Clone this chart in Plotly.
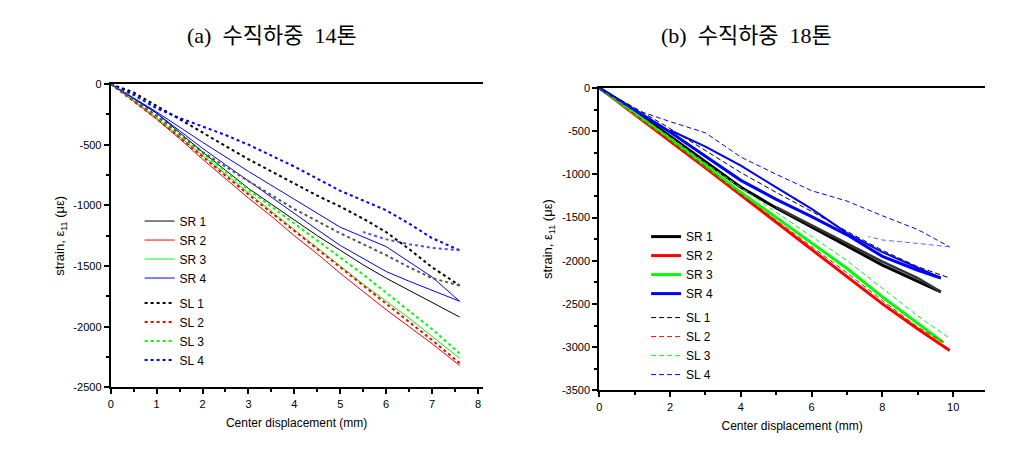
import plotly.graph_objects as go

# ---------------- (a) vertical load 14 ton ----------------
a_x = [0, 0.5, 1, 1.5, 2, 2.5, 3, 3.5, 4, 4.5, 5, 5.5, 6, 6.5, 7, 7.6]
a_SR1 = [0, -120, -240, -400, -560, -710, -860, -990, -1120, -1250, -1370, -1490, -1600, -1700, -1800, -1920]
a_SR2 = [0, -140, -290, -450, -620, -780, -940, -1090, -1250, -1400, -1560, -1710, -1860, -2000, -2140, -2320]
a_SR3 = [0, -135, -280, -435, -590, -745, -900, -1050, -1200, -1350, -1500, -1650, -1790, -1930, -2080, -2260]
a_SR4 = [0, -120, -240, -385, -530, -665, -800, -935, -1070, -1200, -1330, -1440, -1545, -1625, -1700, -1790]
a_SL1 = [0, -70, -180, -290, -400, -510, -620, -720, -820, -920, -1010, -1110, -1220, -1360, -1510, -1660]
a_SL2 = [0, -140, -285, -440, -600, -755, -910, -1060, -1210, -1360, -1510, -1660, -1810, -1960, -2110, -2300]
a_SL3 = [0, -130, -270, -420, -570, -720, -870, -1010, -1150, -1290, -1430, -1570, -1720, -1870, -2020, -2220]
a_SL4 = [0, -90, -200, -280, -350, -420, -500, -590, -680, -780, -880, -960, -1040, -1150, -1270, -1370]
# unloading branches
a_SR4_ret_x = [7.6, 7, 6, 5, 4, 3, 2, 1, 0]
a_SR4_ret = [-1790, -1590, -1340, -1180, -950, -720, -480, -230, 0]
a_SL1_ret_x = [7.6, 7, 6.5, 6, 5.5, 5, 4.5, 4, 3, 2, 1, 0]
a_SL1_ret = [-1660, -1600, -1510, -1410, -1320, -1230, -1130, -1030, -800, -560, -260, 0]
a_SL4_ret_x = [7.6, 7, 6.5, 6, 5.5]
a_SL4_ret = [-1370, -1350, -1320, -1280, -1220]

# ---------------- (b) vertical load 18 ton ----------------
b_x = [0, 1, 2, 3, 4, 5, 6, 7, 8, 9]
b_SR1_end = (9.65, -2360)
b_SR2_end = (9.9, -3040)
b_SR3_end = (9.7, -2940)
b_SR4_end = (9.65, -2200)
b_SL1_end = (9.9, -2200)
b_SL2_end = (9.8, -2960)
b_SL3_end = (9.9, -2900)
b_SL4_end = (9.9, -1840)
b_SR1 = [0, -270, -560, -860, -1150, -1390, -1610, -1830, -2050, -2240]
b_SR2 = [0, -305, -615, -925, -1240, -1555, -1870, -2185, -2500, -2790]
b_SR3 = [0, -290, -590, -900, -1210, -1500, -1790, -2090, -2420, -2730]
b_SR4 = [0, -250, -510, -790, -1070, -1290, -1490, -1700, -1950, -2110]
b_SL1 = [0, -230, -470, -730, -980, -1210, -1430, -1660, -1880, -2070]
b_SL2 = [0, -300, -600, -910, -1230, -1530, -1830, -2140, -2460, -2770]
b_SL3 = [0, -280, -570, -870, -1160, -1440, -1720, -2000, -2320, -2640]
b_SL4 = [0, -250, -390, -520, -800, -1000, -1190, -1310, -1480, -1640]
b_SR1_ret_x = [9.65, 9, 8, 7, 6, 5]
b_SR1_ret = [-2360, -2200, -2010, -1800, -1590, -1380]
b_SR4_ret_x = [9.65, 9, 8, 7, 6, 5, 4, 3, 2]
b_SR4_ret = [-2200, -2080, -1900, -1680, -1400, -1150, -900, -680, -490]
b_SL4_ret_x = [9.9, 9.5, 9, 8.5, 8, 7.6]
b_SL4_ret = [-1840, -1820, -1800, -1780, -1760, -1720]

names_SR = ["SR 1", "SR 2", "SR 3", "SR 4"]
names_SL = ["SL 1", "SL 2", "SL 3", "SL 4"]
colors = ["#000000", "#ff0000", "#00ff00", "#0000ff"]

a_x_ticks = [0, 1, 2, 3, 4, 5, 6, 7, 8]
a_y_ticks = [0, -500, -1000, -1500, -2000, -2500]
b_x_ticks = [0, 2, 4, 6, 8, 10]
b_y_ticks = [0, -500, -1000, -1500, -2000, -2500, -3000, -3500]

fig = go.Figure()


def add(x, y, name, color, width, dash, xa, ya, legend, group, show=True):
    fig.add_trace(go.Scatter(
        x=x, y=y, mode="lines", name=name,
        line=dict(color=color, width=width, dash=dash),
        xaxis=xa, yaxis=ya, legend=legend, legendgroup=group,
        showlegend=show, hoverinfo="skip"))


DASH = "5px,3px"
a_SR = [a_SR1, a_SR2, a_SR3, a_SR4]
a_SL = [a_SL1, a_SL2, a_SL3, a_SL4]
for i in range(4):
    add(a_x, a_SR[i], names_SR[i], colors[i], 1, "solid", "x", "y", "legend", "aSR")
for i in range(4):
    add(a_x, a_SL[i], names_SL[i], colors[i], 2, "dot", "x", "y", "legend", "aSL")
add(a_SR4_ret_x, a_SR4_ret, "SR 4", colors[3], 1, "solid", "x", "y", "legend", "aSR", False)
add(a_SL1_ret_x, a_SL1_ret, "SL 1", "#555555", 2, "dot", "x", "y", "legend", "aSL", False)
add(a_SL4_ret_x, a_SL4_ret, "SL 4", "#4d4dff", 2, "dot", "x", "y", "legend", "aSL", False)

b_SR = [(b_SR1, b_SR1_end), (b_SR2, b_SR2_end), (b_SR3, b_SR3_end), (b_SR4, b_SR4_end)]
b_SL = [(b_SL1, b_SL1_end), (b_SL2, b_SL2_end), (b_SL3, b_SL3_end), (b_SL4, b_SL4_end)]
for i in range(4):
    ys, end = b_SR[i]
    add(b_x + [end[0]], ys + [end[1]], names_SR[i], colors[i], 3, "solid", "x2", "y2", "legend2", "bSR")
for i in range(4):
    ys, end = b_SL[i]
    add(b_x + [end[0]], ys + [end[1]], names_SL[i], colors[i], 1, DASH, "x2", "y2", "legend2", "bSL")
add(b_SR1_ret_x, b_SR1_ret, "SR 1", "#333333", 2.5, "solid", "x2", "y2", "legend2", "bSR", False)
add(b_SR4_ret_x, b_SR4_ret, "SR 4", colors[3], 2, "solid", "x2", "y2", "legend2", "bSR", False)
add(b_SL4_ret_x, b_SL4_ret, "SL 4", "#6666ff", 1, DASH, "x2", "y2", "legend2", "bSL", False)

# page body has an 8px margin: size the figure to fit and shift coordinates
OFF = 8
W, H = 1020 - 2 * OFF, 451 - 2 * OFF


def px(x):
    return (x - OFF) / W


def py(y):
    return (H - (y - OFF)) / H


tickfont = dict(family="Liberation Sans, Arial, sans-serif", size=11, color="black")
titlefont = dict(family="Liberation Sans, Arial, sans-serif", size=12, color="black")
ytitlefont = dict(family="Liberation Sans, Arial, sans-serif", size=13, color="black")


def xaxis(dom, rng, ticks, anchor, dtick_minor):
    return dict(domain=dom, range=rng, anchor=anchor, tickvals=ticks,
                ticktext=[str(t) for t in ticks], ticks="outside", ticklen=5,
                tickwidth=2, tickcolor="black", showline=True, linewidth=2,
                linecolor="black", mirror=True, showgrid=False, zeroline=False,
                tickfont=tickfont,
                minor=dict(dtick=dtick_minor, ticks="outside", ticklen=3, tickwidth=2, tickcolor="black"),
                title=dict(text="Center displacement (mm)", font=titlefont, standoff=10))


def yaxis(dom, rng, ticks, anchor):
    return dict(domain=dom, range=rng, anchor=anchor, tickvals=ticks,
                ticktext=[str(t) for t in ticks], ticks="outside", ticklen=5,
                tickwidth=2, tickcolor="black", showline=True, linewidth=2,
                linecolor="black", mirror=False, showgrid=False, zeroline=False,
                tickfont=tickfont,
                minor=dict(dtick=250, ticks="outside", ticklen=3, tickwidth=2, tickcolor="black"),
                title=dict(text="strain, ε<sub>11</sub> (με)", font=ytitlefont, standoff=6))


legfont = dict(family="Liberation Sans, Arial", size=12, color="black")
titfont = dict(family="Liberation Serif, Noto Sans CJK KR", size=22, color="black")
NB = "\u00a0"

fig.update_layout(
    width=W, height=H, margin=dict(l=0, r=0, t=0, b=0),
    paper_bgcolor="white", plot_bgcolor="white",
    xaxis=xaxis([px(108), px(481)], [0, 8.1], a_x_ticks, "y", 0.5),
    yaxis=yaxis([py(392), py(80)], [-2500, 0], a_y_ticks, "x"),
    xaxis2=xaxis([px(598), px(985)], [0, 10.9], b_x_ticks, "y2", 1),
    yaxis2=yaxis([py(395), py(84)], [-3500, 0], b_y_ticks, "x2"),
    legend=dict(x=px(137), y=py(206), xanchor="left", yanchor="top",
                bgcolor="rgba(0,0,0,0)", font=legfont,
                tracegroupgap=6, traceorder="grouped", itemwidth=30),
    legend2=dict(x=px(645), y=py(222), xanchor="left", yanchor="top",
                 bgcolor="rgba(0,0,0,0)", font=legfont,
                 tracegroupgap=5, traceorder="grouped", itemwidth=30),
    annotations=[
        dict(text="(a)" + NB * 2 + "수직하중" + NB * 2 + "14톤", x=px(270), y=py(30), xref="paper", yref="paper",
             xanchor="center", yanchor="middle", showarrow=False, font=titfont),
        dict(text="(b)" + NB * 2 + "수직하중" + NB * 2 + "18톤", x=px(746), y=py(30), xref="paper", yref="paper",
             xanchor="center", yanchor="middle", showarrow=False, font=titfont),
    ],
)

fig.write_html("out.html")
